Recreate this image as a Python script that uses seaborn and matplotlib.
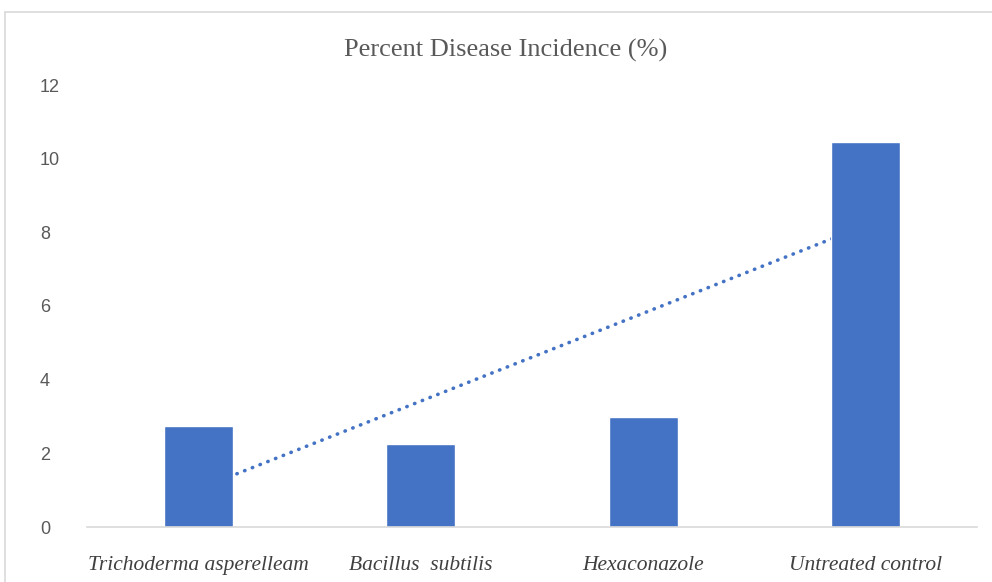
import numpy as np
import pandas as pd
import matplotlib
matplotlib.use("Agg")
import matplotlib.pyplot as plt
import seaborn as sns
from matplotlib.lines import Line2D

# data
treatments = ["Trichoderma asperelleam", "Bacillus  subtilis", "Hexaconazole", "Untreated control"]
incidence = [2.75, 2.24, 3.0, 10.45]
y_ticks = [0, 2, 4, 6, 8, 10, 12]

bar_color = "#4472C4"
df = pd.DataFrame({"Treatment": treatments, "PDI": incidence})

sns.set_theme(style="white")
plt.rcParams["font.family"] = ["Liberation Sans", "DejaVu Sans"]

fig = plt.figure(figsize=(9.92, 5.82), dpi=100)
ax = fig.add_axes([87 / 992, 1 - 527 / 582, (977 - 87) / 992, (527 - 85) / 582])

# linear trendline (Excel style), drawn behind the bars
xs = np.arange(len(incidence))
slope, intercept = np.polyfit(xs + 1, incidence, 1)
ax.plot(xs, slope * (xs + 1) + intercept, linestyle=(0, (0.1, 2.2)), color=bar_color,
        linewidth=2.6, dash_capstyle="round", zorder=1)

sns.barplot(data=df, x="Treatment", y="PDI", color=bar_color, saturation=1,
            width=0.31, ax=ax, zorder=2)

ax.set_ylim(0, 12)
ax.set_xlim(-0.5, len(treatments) - 0.5)
ax.set_yticks(y_ticks)
ax.set_xlabel("")
ax.set_ylabel("")
for s in ["top", "right", "left"]:
    ax.spines[s].set_visible(False)
ax.spines["bottom"].set_color("#D9D9D9")
ax.spines["bottom"].set_linewidth(1.2)
ax.tick_params(axis="y", length=0, pad=34, labelsize=13, labelcolor="#595959")
ax.tick_params(axis="x", length=0, pad=21)
for lab in ax.get_yticklabels():
    lab.set_horizontalalignment("left")
for lab in ax.get_xticklabels():
    lab.set_fontfamily("Liberation Serif")
    lab.set_fontstyle("italic")
    lab.set_fontsize(15.5)
    lab.set_color("#404040")

fig.text(0.51, 1 - 50 / 582, "Percent Disease Incidence (%)", ha="center", va="center",
         family="Liberation Serif", fontsize=19, color="#595959")

# chart-area border (left and top edges visible in the reference)
fig.add_artist(Line2D([5 / 992, 5 / 992], [0, 1 - 12 / 582], transform=fig.transFigure,
                      color="#D9D9D9", linewidth=1.2))
fig.add_artist(Line2D([5 / 992, 1], [1 - 12 / 582, 1 - 12 / 582], transform=fig.transFigure,
                      color="#D9D9D9", linewidth=1.2))

fig.savefig("out.png", dpi=100)
